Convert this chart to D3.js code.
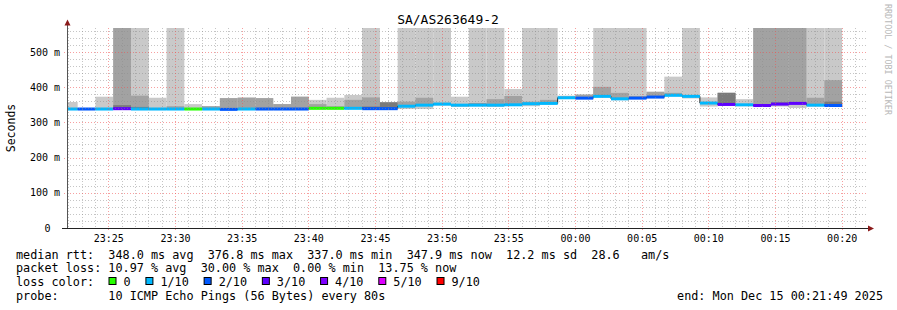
<!DOCTYPE html>
<html>
<head>
<meta charset="utf-8">
<script src="https://cdn.jsdelivr.net/npm/d3@7"></script>
<style>
  body { margin: 0; background: #fff; }
  svg text { font-family: "DejaVu Sans Mono", monospace; white-space: pre; }
</style>
</head>
<body>
<script>
const width = 897
const height = 310
const plotLeft = 67
const plotRight = 867
const plotTop = 28
const plotBottom = 228

const chartTitle = "SA/AS263649-2"
const plotStart = new Date(2025, 11, 14, 23, 21, 54)
const plotEnd = new Date(2025, 11, 15, 0, 21, 54)
const firstStep = new Date(2025, 11, 14, 23, 21, 22)
const stepSeconds = 80

// median rtt per 80s step (ms)
const median = [338, 338, 338, 339, 338, 338, 338, 338, 338, 337,
  338, 338, 338, 338, 340, 340, 340, 339, 339, 346,
  349, 352, 349, 349, 349, 350, 353, 354, 370, 369,
  374, 367, 369, 372, 377, 374, 355, 351, 350, 348,
  352, 354, 349, 348]
// lost pings out of 10
const lossCount = [1, 2, 1, 3, 1, 1, 1, 0, 1, 2,
  1, 2, 2, 2, 0, 0, 1, 2, 2, 1,
  1, 1, 1, 1, 1, 1, 1, 1, 1, 2,
  1, 1, 2, 2, 1, 1, 1, 3, 1, 3,
  3, 3, 1, 2]
// smoke: outer ping range top/bottom, inner and core tops (ms)
const smokeTop = [358, 341, 373, 600, 600, 370, 600, 352, 346, 369,
  371, 369, 352, 373, 364, 370, 378, 600, 357, 600,
  600, 600, 373, 600, 600, 395, 600, 600, 376, 379,
  600, 600, 600, 387, 430, 600, 371, 384, 366, 600,
  600, 600, 600, 600]
const smokeLow = [336, 336, 336, 336, 336, 336, 336, 336, 336, 336,
  336, 336, 336, 336, 338, 338, 338, 337, 337, 338,
  338, 348, 344, 346, 344, 348, 346, 351, 367, 366,
  371, 363, 367, 369, 374, 368, 345, 349, 346, 346,
  345, 341, 345, 346]
const smokeInner = [null, null, null, 600, 376, null, 346, null, 346, 369,
  370, 369, 352, 373, 352, 346, 364, 371, 357, 359,
  370, 356, 352, null, 366, 375, 359, 364, 373, 379,
  401, 384, 375, 387, 384, 375, null, 384, null, 600,
  600, 600, 370, 420]
const smokeCore = [null, null, null, 349, 344, null, null, null, null, null,
  null, null, null, null, null, null, null, 345, 357, null,
  null, null, null, 354, null, null, null, null, null, null,
  null, null, null, null, null, null, null, 384, null, null,
  357, null, null, 359]

const yTicks = [0, 100, 200, 300, 400, 500]
const lossLevels = [0, 1, 2, 3, 4, 5, 9]
const lossLabels = ["0", "1/10", "2/10", "3/10", "4/10", "5/10", "9/10"]
const lossColors = ["#26ff00", "#00b8ff", "#0059ff", "#5e00ff", "#7e00ff", "#dd00ff", "#ff0000"]

const statsLines = [
  "median rtt:  348.0 ms avg  376.8 ms max  337.0 ms min  347.9 ms now  12.2 ms sd  28.6   am/s",
  "packet loss: 10.97 % avg  30.00 % max  0.00 % min  13.75 % now"
]
const probeLine = "probe:       10 ICMP Echo Pings (56 Bytes) every 80s"
const endLine = "end: Mon Dec 15 00:21:49 2025"

const x = d3.scaleTime().domain([plotStart, plotEnd]).range([plotLeft, plotRight])
const y = d3.scaleLinear().domain([0, 568.2]).range([plotBottom, plotTop])
const lossColor = d3.scaleThreshold().domain(lossLevels.slice(1)).range(lossColors)

const steps = median.map((m, i) => ({
  t0: d3.timeSecond.offset(firstStep, i * stepSeconds),
  t1: d3.timeSecond.offset(firstStep, (i + 1) * stepSeconds),
  median: m,
  loss: lossCount[i],
  top: smokeTop[i],
  low: smokeLow[i],
  inner: smokeInner[i],
  core: smokeCore[i]
}))

const svg = d3.select("body").append("svg")
  .attr("width", width)
  .attr("height", height)

svg.append("rect").attr("width", width).attr("height", height).attr("fill", "#fff")

svg.append("clipPath").attr("id", "plot-clip")
  .append("rect")
  .attr("x", plotLeft).attr("y", plotTop)
  .attr("width", plotRight - plotLeft).attr("height", plotBottom - plotTop)

const plot = svg.append("g").attr("clip-path", "url(#plot-clip)")

// smoke
function band(cls, color, lo, hi) {
  plot.selectAll("." + cls)
    .data(steps.filter(d => hi(d) != null))
    .enter()
    .append("rect")
    .attr("class", cls)
    .attr("x", d => x(d.t0))
    .attr("width", d => x(d.t1) - x(d.t0))
    .attr("y", d => y(hi(d)))
    .attr("height", d => Math.max(0, y(lo(d)) - y(hi(d))))
    .attr("fill", color)
}
band("smoke-outer", "#c9c9c9", d => d.low, d => d.top)
band("smoke-inner", "#a2a2a2", d => d.median - 1, d => d.inner)
band("smoke-core", "#7a7a7a", d => d.median - 1, d => d.core)

// dark median step line
const medianLine = d3.line()
  .x(d => x(d[0]))
  .y(d => y(d[1]))
  .curve(d3.curveStepAfter)
plot.append("path")
  .datum(steps.map(d => [d.t0, d.median]).concat([[steps[steps.length - 1].t1, median[median.length - 1]]]))
  .attr("d", medianLine)
  .attr("fill", "none")
  .attr("stroke", "#202020")
  .attr("stroke-width", 1)

// loss coloured median band
plot.selectAll(".median-band")
  .data(steps)
  .enter()
  .append("rect")
  .attr("class", "median-band")
  .attr("x", d => x(d.t0))
  .attr("width", d => x(d.t1) - x(d.t0))
  .attr("y", d => y(d.median) - 1.5)
  .attr("height", 3)
  .attr("fill", d => lossColor(d.loss))

// grid on top
const grid = svg.append("g").attr("class", "grid")
const minorY = d3.range(20, 568, 20).filter(v => v % 100 !== 0)
const majorY = yTicks.filter(v => v > 0)
const minorX = d3.timeMinute.range(plotStart, plotEnd).filter(t => t.getMinutes() % 5 !== 0)
const majorX = d3.timeMinute.every(5).range(plotStart, plotEnd)

grid.selectAll(".minor-y").data(minorY).enter().append("line")
  .attr("x1", plotLeft).attr("x2", plotRight)
  .attr("y1", d => Math.round(y(d)) + 0.5).attr("y2", d => Math.round(y(d)) + 0.5)
  .attr("stroke", "rgba(140,140,140,0.5)").attr("stroke-dasharray", "1,2")
grid.selectAll(".minor-x").data(minorX).enter().append("line")
  .attr("x1", d => Math.round(x(d)) + 0.5).attr("x2", d => Math.round(x(d)) + 0.5)
  .attr("y1", plotTop).attr("y2", plotBottom)
  .attr("stroke", "rgba(140,140,140,0.5)").attr("stroke-dasharray", "1,2")
grid.selectAll(".major-y").data(majorY).enter().append("line")
  .attr("x1", plotLeft - 3).attr("x2", plotRight)
  .attr("y1", d => Math.round(y(d)) + 0.5).attr("y2", d => Math.round(y(d)) + 0.5)
  .attr("stroke", "rgba(240,80,80,0.55)").attr("stroke-dasharray", "1,2")
grid.selectAll(".major-x").data(majorX).enter().append("line")
  .attr("x1", d => Math.round(x(d)) + 0.5).attr("x2", d => Math.round(x(d)) + 0.5)
  .attr("y1", plotTop).attr("y2", plotBottom + 2)
  .attr("stroke", "rgba(240,80,80,0.55)").attr("stroke-dasharray", "1,2")

// axes
svg.append("line")
  .attr("x1", plotLeft + 0.5).attr("x2", plotLeft + 0.5)
  .attr("y1", plotBottom + 1).attr("y2", 24)
  .attr("stroke", "#555")
svg.append("line")
  .attr("x1", plotLeft - 5).attr("x2", plotRight + 2)
  .attr("y1", plotBottom + 0.5).attr("y2", plotBottom + 0.5)
  .attr("stroke", "#222")
svg.append("path")
  .attr("d", `M${plotLeft - 2.5},${25.5}L${plotLeft + 3.5},${25.5}L${plotLeft + 0.5},${19.5}Z`)
  .attr("fill", "#8b1a1a")
svg.append("path")
  .attr("d", `M${plotRight + 1},${plotBottom - 2.5}L${plotRight + 1},${plotBottom + 3.5}L${plotRight + 7},${plotBottom + 0.5}Z`)
  .attr("fill", "#8b1a1a")

// y labels
svg.selectAll(".y-label").data(yTicks).enter().append("text")
  .attr("class", "y-label")
  .attr("x", d => d === 0 ? 50.5 : 60)
  .attr("y", d => y(d) + 3.5)
  .attr("text-anchor", "end")
  .attr("font-size", "10px")
  .attr("fill", "#000")
  .text(d => d === 0 ? "0" : d + " m")

// x labels
svg.selectAll(".x-label").data(majorX).enter().append("text")
  .attr("class", "x-label")
  .attr("x", d => x(d) + 0.5)
  .attr("y", 241.5)
  .attr("text-anchor", "middle")
  .attr("font-size", "10px")
  .attr("fill", "#000")
  .text(d3.timeFormat("%H:%M"))

svg.append("text")
  .attr("transform", "translate(15,128) rotate(-90)")
  .attr("text-anchor", "middle")
  .attr("font-size", "11.5px")
  .attr("fill", "#000")
  .text("Seconds")

svg.append("text")
  .attr("x", 448).attr("y", 24)
  .attr("text-anchor", "middle")
  .attr("font-size", "13px")
  .attr("fill", "#000")
  .text(chartTitle)

svg.append("text")
  .attr("transform", "translate(885,4) rotate(90)")
  .attr("font-size", "8.4px")
  .attr("fill", "#b8b8b8")
  .text("RRDTOOL / TOBI OETIKER")

// legend
const legendFont = "11.8px"
const baselines = [258.7, 272.3, 285.9, 299.5]
statsLines.forEach((s, i) => {
  svg.append("text")
    .attr("x", 16).attr("y", baselines[i])
    .attr("font-size", legendFont)
    .attr("fill", "#000")
    .text(s)
})
svg.append("text")
  .attr("x", 16).attr("y", baselines[2])
  .attr("font-size", legendFont)
  .attr("fill", "#000")
  .text("loss color:")
let lx = 108.5
lossLabels.forEach((lab, i) => {
  svg.append("rect")
    .attr("x", lx + 0.5).attr("y", 277.5)
    .attr("width", 7).attr("height", 7)
    .attr("fill", lossColors[i])
    .attr("stroke", "#000")
  const t = svg.append("text")
    .attr("x", lx + 15).attr("y", baselines[2])
    .attr("font-size", legendFont)
    .attr("fill", "#000")
    .text(lab)
  lx += 15 + t.node().getComputedTextLength() + 14.8
})
svg.append("text")
  .attr("x", 16).attr("y", baselines[3])
  .attr("font-size", legendFont)
  .attr("fill", "#000")
  .text(probeLine)
svg.append("text")
  .attr("x", 883).attr("y", baselines[3])
  .attr("text-anchor", "end")
  .attr("font-size", legendFont)
  .attr("fill", "#000")
  .text(endLine)
</script>
</body>
</html>
